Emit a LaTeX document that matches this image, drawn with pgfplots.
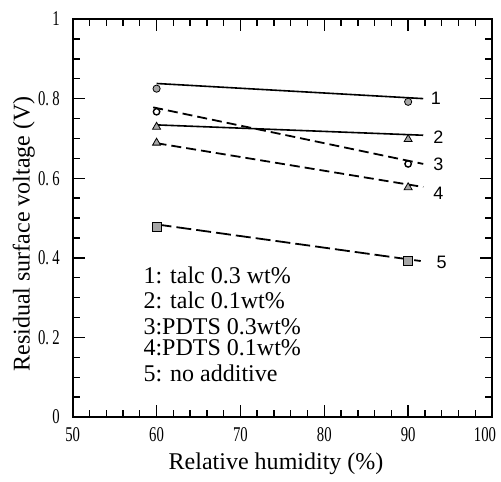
\documentclass[border=0pt]{standalone}
\usepackage{fontspec}
\setmainfont{Liberation Serif}
\newfontfamily\tickfont[FakeStretch=0.7]{Liberation Serif}
\newfontfamily\numfont{Liberation Sans}
\usepackage{pgfplots}
\pgfplotsset{compat=1.18}
\begin{document}
\begin{tikzpicture}
\begin{axis}[
  scale only axis, width=209.6pt, height=199pt,
  xmin=50, xmax=100, ymin=0, ymax=1,
  xtick={50,60,...,100}, ytick={0,0.2,...,1},
  xticklabels={50,60,70,80,90,{\makebox[4pt][r]{100}}},
  yticklabels={0,{0.\hspace{1.6pt}2},{0.\hspace{1.6pt}4},{0.\hspace{1.6pt}6},{0.\hspace{1.6pt}8},1},
  /pgf/number format/assume math mode=true,
  minor x tick num=4, minor y tick num=3,
  major tick length=6pt, minor tick length=3.5pt,
  tick style={line width=0.7pt, black},
  axis line style={line width=0.8pt},
  ticklabel style={font=\tickfont\fontsize{10.5}{12}\selectfont},
  xticklabel style={anchor=center, yshift=-9pt},
  yticklabel style={anchor=east, xshift=-3pt},
  xlabel={Relative humidity (\%)},
  ylabel={Residual surface voltage (V)},
  label style={font=\fontsize{12}{14}\selectfont},
  xlabel style={at={(axis description cs:0.485,-0.118)}, anchor=center},
  ylabel style={at={(axis description cs:-0.117,0.46)}, anchor=center},
  clip=false,
]
% fitted lines
\addplot[black, line width=0.8pt] coordinates {(60,0.838) (91.8,0.800)};
\addplot[black, line width=0.8pt] coordinates {(60,0.734) (91.8,0.708)};
\addplot[black, line width=0.9pt, dash pattern=on 5pt off 2.5pt] coordinates {(59.6,0.778) (91.8,0.636)};
\addplot[black, line width=0.9pt, dash pattern=on 5pt off 2.5pt] coordinates {(60,0.688) (91.8,0.578)};
\addplot[black, line width=0.9pt, dash pattern=on 7.5pt off 2.5pt] coordinates {(60,0.484) (91.5,0.392)};
% measured points
\addplot[only marks, mark=*, mark size=1.8pt, draw=black, fill=gray!70] coordinates {(60,0.825) (90,0.792)};
\addplot[only marks, mark=triangle*, mark size=2.3pt, draw=black, fill=gray!70] coordinates {(60,0.729) (90,0.698)};
\addplot[only marks, mark=o, mark size=1.6pt, draw=black, line width=0.7pt] coordinates {(60,0.767) (90,0.636)};
\addplot[only marks, mark=triangle*, mark size=2.3pt, draw=black, fill=gray!70] coordinates {(60,0.689) (90,0.577)};
\addplot[only marks, mark=square*, mark size=2.3pt, draw=black, fill=gray!70] coordinates {(60,0.477) (90,0.392)};
% curve numbers
\node[font=\numfont\fontsize{9}{10}\selectfont] at (axis cs:93.3,0.800) {1};
\node[font=\numfont\fontsize{9}{10}\selectfont] at (axis cs:93.6,0.702) {2};
\node[font=\numfont\fontsize{9}{10}\selectfont] at (axis cs:93.6,0.636) {3};
\node[font=\numfont\fontsize{9}{10}\selectfont] at (axis cs:93.6,0.563) {4};
\node[font=\numfont\fontsize{9}{10}\selectfont] at (axis cs:94.0,0.389) {5};
% key
\begin{scope}[every node/.style={anchor=west, inner sep=0pt, font=\fontsize{12}{14}\selectfont}]
\node at (axis cs:58.4,0.357) {1: talc 0.3 wt\%};
\node at (axis cs:58.4,0.294) {2: talc 0.1wt\%};
\node at (axis cs:58.4,0.228) {3:PDTS 0.3wt\%};
\node at (axis cs:58.4,0.174) {4:PDTS 0.1wt\%};
\node at (axis cs:58.4,0.111) {5: no additive};
\end{scope}
\end{axis}
\pgfresetboundingbox
\path[use as bounding box] ([shift={(-36.35pt,-32pt)}]current axis.south west) rectangle ([shift={(4.5pt,9.5pt)}]current axis.north east);
\end{tikzpicture}
\end{document}
